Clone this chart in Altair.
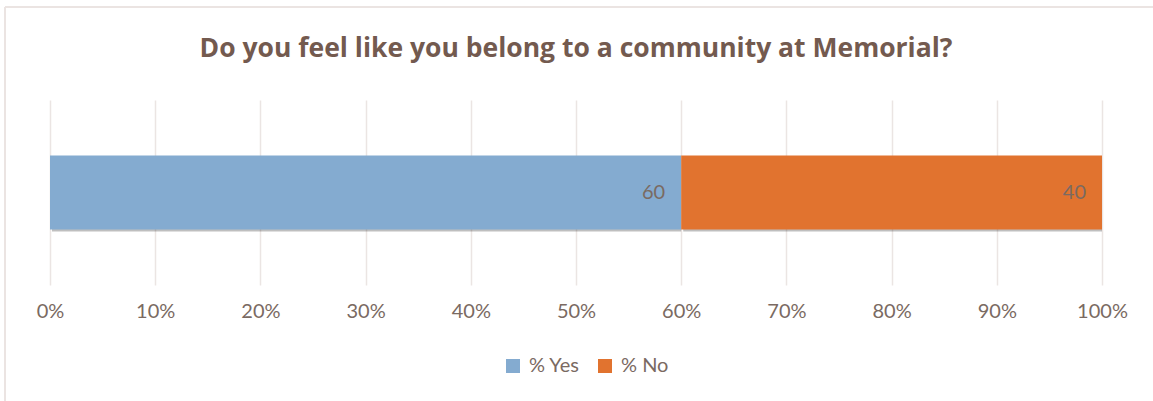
import altair as alt
import pandas as pd

categories = ["% Yes", "% No"]
values = [60, 40]
colors = ["#84abd0", "#e1732f"]
tick_values = [0, 10, 20, 30, 40, 50, 60, 70, 80, 90, 100]

df = pd.DataFrame({"series": categories, "value": values, "order": [0, 1], "q": ["Q"] * 2})

FONT = "Lato"
TXT = "#7a6a62"

base = alt.Chart(df).transform_stack(
    stack="value", groupby=["q"], as_=["start", "end"], sort=[alt.SortField("order")]
)

xscale = alt.Scale(domain=[0, 100], nice=False)

shadow = base.mark_bar(color="#000000", opacity=0.25, xOffset=2, yOffset=3, size=72).encode(
    x=alt.X("start:Q", scale=xscale,
            axis=alt.Axis(values=tick_values, labelExpr="datum.value + '%'", title=None,
                          ticks=False, domain=False, grid=True, gridColor="#ebe5e3",
                          gridWidth=1.5, labelFont=FONT, labelFontSize=20, labelColor=TXT,
                          labelPadding=16, labelFlush=False, labelOverlap=False)),
    x2="end:Q",
    y=alt.Y("q:N", axis=None),
)

bars = base.mark_bar(size=74).encode(
    x=alt.X("start:Q", scale=xscale),
    x2="end:Q",
    y=alt.Y("q:N", axis=None),
    color=alt.Color("series:N", scale=alt.Scale(domain=categories, range=colors),
                    legend=alt.Legend(title=None, orient="none", legendX=453, legendY=256,
                                      direction="horizontal", symbolType="square",
                                      symbolSize=196, symbolStrokeWidth=0, labelFont=FONT,
                                      labelFontSize=20, labelColor=TXT, columnPadding=15,
                                      labelOffset=6)),
)

labels = base.mark_text(align="right", baseline="middle", dx=-16, font=FONT, fontSize=20,
                        color=TXT).encode(
    x=alt.X("end:Q", scale=xscale),
    y=alt.Y("q:N", axis=None),
    text=alt.Text("value:Q"),
)

border_left = alt.Chart(df).mark_rule(color="#ebe4e2", strokeWidth=2).encode(
    x=alt.value(-45), y=alt.value(-93), y2=alt.value(310)
)
border_top = alt.Chart(df).mark_rule(color="#ebe4e2", strokeWidth=2).encode(
    x=alt.value(-45), x2=alt.value(1110), y=alt.value(-93)
)

chart = alt.layer(shadow, bars, labels, border_left, border_top).properties(
    width=1052,
    height=185,
    background="white",
    autosize=alt.AutoSizeParams(type="none"),
    padding={"left": 50, "top": 100, "right": 51, "bottom": 116},
    title=alt.Title("Do you feel like you belong to a community at Memorial?",
                    font="Open Sans", fontSize=26.5, fontWeight="bold", color="#735a4f",
                    anchor="middle", offset=-56),
).configure_view(strokeWidth=0)

chart.save("out.html", embed_options={"renderer": "svg", "actions": False})
